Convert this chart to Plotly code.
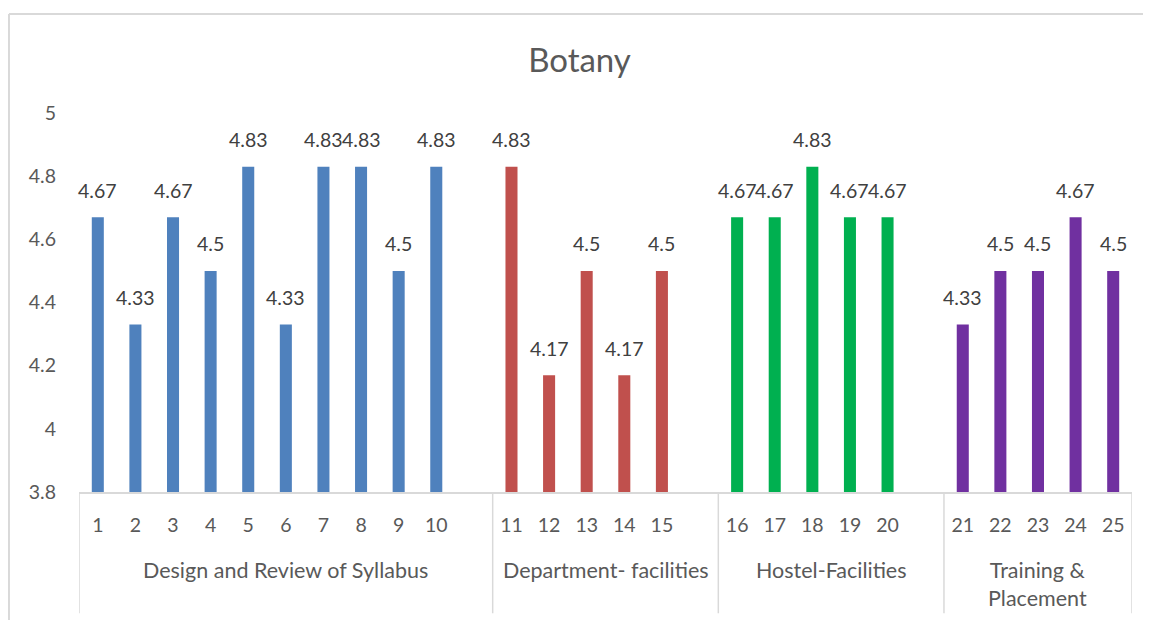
import plotly.graph_objects as go

# -------- DATA --------
group_names = ["Design and Review of Syllabus", "Department- facilities",
               "Hostel-Facilities", "Training &<br>Placement"]
group_questions = [
    ["1", "2", "3", "4", "5", "6", "7", "8", "9", "10"],
    ["11", "12", "13", "14", "15"],
    ["16", "17", "18", "19", "20"],
    ["21", "22", "23", "24", "25"],
]
group_scores = [
    [4.67, 4.33, 4.67, 4.5, 4.83, 4.33, 4.83, 4.83, 4.5, 4.83],
    [4.83, 4.17, 4.5, 4.17, 4.5],
    [4.67, 4.67, 4.83, 4.67, 4.67],
    [4.33, 4.5, 4.5, 4.67, 4.5],
]
group_colors = ["#4F81BD", "#C0504D", "#00B050", "#7030A0"]

FONT = "Lato"
TXT = "#595959"
LINE = "#D9D9D9"

# category order: each group followed by an empty slot (except the last)
categories = []
for i, qs in enumerate(group_questions):
    categories += qs
    if i < len(group_questions) - 1:
        categories.append(" " * (i + 1))

fig = go.Figure()
for qs, sc, col in zip(group_questions, group_scores, group_colors):
    fig.add_trace(go.Bar(x=qs, y=sc, marker_color=col, width=0.32,
                         marker_line_width=0, showlegend=False))
    # data labels (numeric category index, since "1","2".. would be read as indices)
    for q, v in zip(qs, sc):
        fig.add_annotation(x=categories.index(q), y=v, text=str(v), showarrow=False,
                           yanchor="middle", yshift=27,
                           font=dict(family=FONT, size=19.5, color="#404040"))

# group separators + labels under the axis
edges = [-0.5]
for i, qs in enumerate(group_questions):
    last = categories.index(qs[-1])
    edges.append(last + 1.5 if i < len(group_questions) - 1 else last + 0.5)

for e in edges:
    fig.add_shape(type="line", xref="x", yref="paper", x0=e, x1=e, y0=0, y1=-0.32,
                  line=dict(color=LINE, width=1.5))

for name, a, b in zip(group_names, edges[:-1], edges[1:]):
    two_lines = "<br>" in name
    fig.add_annotation(x=(a + b) / 2, y=0, xref="x", yref="paper", text=name,
                       showarrow=False, yanchor="middle",
                       yshift=-92 if two_lines else -78,
                       font=dict(family=FONT, size=21.5, color=TXT))

# outer chart border (top and left visible)
fig.add_shape(type="line", xref="paper", yref="paper", x0=-0.0665, x1=1.1,
              y0=1.2612, y1=1.2612, line=dict(color=LINE, width=2))
fig.add_shape(type="line", xref="paper", yref="paper", x0=-0.0665, x1=-0.0665,
              y0=1.2612, y1=-0.5, line=dict(color=LINE, width=2))

# page adds an 8px body margin, so the figure is shifted by 8px
fig.update_layout(
    width=1143, height=612,
    margin=dict(l=71, r=19, t=105, b=128),
    paper_bgcolor="white", plot_bgcolor="white",
    barmode="overlay",
    title=dict(text="Botany", x=0.5, xanchor="center", y=0.915, yanchor="middle",
               font=dict(family=FONT, size=33, color=TXT)),
    font=dict(family=FONT, color=TXT),
)
fig.update_xaxes(type="category", categoryorder="array", categoryarray=categories,
                 range=[-0.5, len(categories) - 0.5],
                 showline=True, linecolor=LINE, linewidth=1.5, showgrid=False,
                 ticks="", ticklabelstandoff=15,
                 tickfont=dict(family=FONT, size=19.5, color=TXT))
fig.update_yaxes(range=[3.8, 5], dtick=0.2, showgrid=False, zeroline=False,
                 showline=False, ticks="", ticklabelstandoff=22,
                 tickfont=dict(family=FONT, size=19.5, color=TXT))

fig.write_html("out.html")
